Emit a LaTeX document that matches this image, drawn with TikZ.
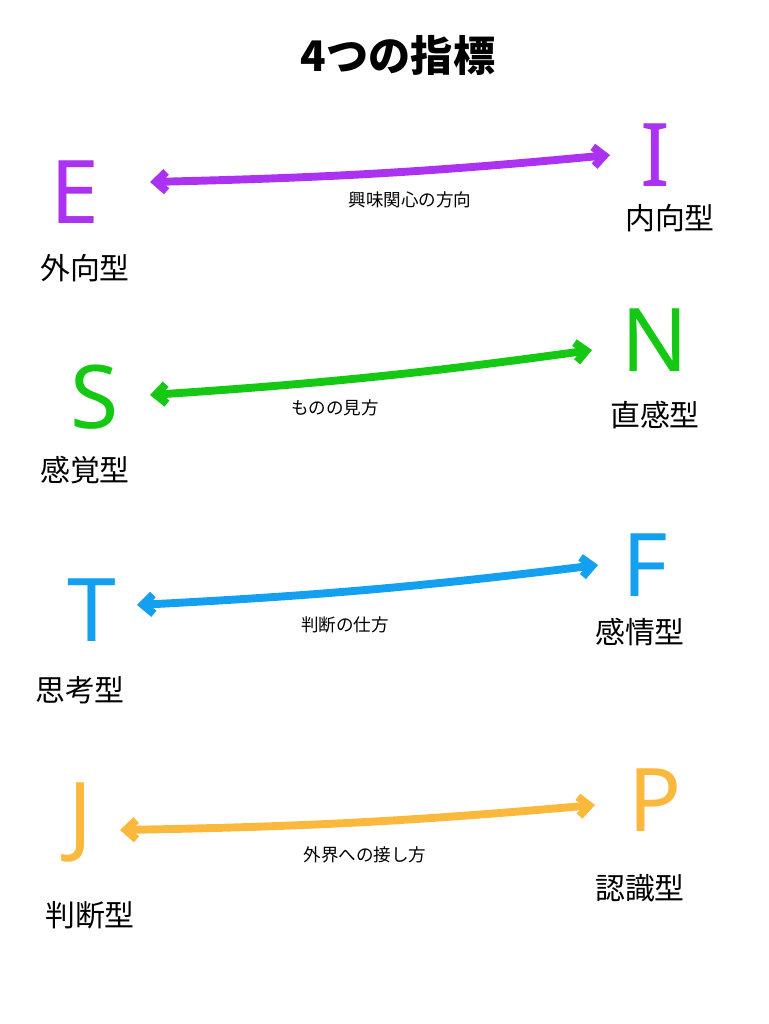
\documentclass[tikz,border=0pt]{standalone}
\usepackage{fontspec}
\setmainfont{Noto Sans}
\newfontfamily\jpfont{Noto Sans CJK JP}
\usetikzlibrary{arrows.meta}
\definecolor{cE}{RGB}{170,50,240}
\definecolor{cS}{RGB}{20,200,20}
\definecolor{cT}{RGB}{20,160,240}
\definecolor{cJ}{RGB}{250,185,60}
\begin{document}
\begin{tikzpicture}[x=0.02cm, y=-0.02cm,
    letter/.style={font=\fontsize{50}{50}\selectfont\bfseries, inner sep=0pt},
    typeLabel/.style={font=\jpfont\fontsize{17}{17}\selectfont, inner sep=0pt},
    axisLabel/.style={font=\jpfont\fontsize{10}{10}\selectfont, inner sep=0pt},
    axis/.style={line width=4.5pt, line cap=round, {Straight Barb[length=6pt,width=11pt]}-{Straight Barb[length=6pt,width=11pt]}},
  ]
    \useasboundingbox (0,0) rectangle (768,1024);
    \node[font=\jpfont\bfseries\fontsize{24}{24}\selectfont] (title) at (398,55) {4つの指標};

    % E -- I
    \node[letter, text=cE] (E) at (75,192) {E};
    \node[letter, text=cE, font=\fontsize{50}{50}\selectfont\bfseries\rmfamily] (I) at (655,155) {I};
    \node[typeLabel] (E_type) at (85,268) {外向型};
    \node[typeLabel] (I_type) at (670,218) {内向型};
    \coordinate (E_end) at (150,182);
    \coordinate (I_end) at (610,155);
    \draw[axis, cE] (E_end) to[bend right=2] (I_end);
    \node[axisLabel] (EI_axis) at (410,200) {興味関心の方向};

    % S -- N
    \node[letter, text=cS] (S) at (95,397) {S};
    \node[letter, text=cS] (N) at (655,340) {N};
    \node[typeLabel] (S_type) at (85,470) {感覚型};
    \node[typeLabel] (N_type) at (655,415) {直感型};
    \coordinate (S_end) at (150,395);
    \coordinate (N_end) at (592,350);
    \draw[axis, cS] (S_end) to[bend right=2] (N_end);
    \node[axisLabel] (SN_axis) at (335,408) {ものの見方};

    % T -- F
    \node[letter, text=cT] (T) at (92,610) {T};
    \node[letter, text=cT] (F) at (645,565) {F};
    \node[typeLabel] (T_type) at (80,690) {思考型};
    \node[typeLabel] (F_type) at (640,632) {感情型};
    \coordinate (T_end) at (137,605);
    \coordinate (F_end) at (598,565);
    \draw[axis, cT] (T_end) to[bend right=2] (F_end);
    \node[axisLabel] (TF_axis) at (345,625) {判断の仕方};

    % J -- P
    \node[letter, text=cJ] (J) at (80,822) {J};
    \node[letter, text=cJ] (P) at (655,800) {P};
    \node[typeLabel] (J_type) at (90,915) {判断型};
    \node[typeLabel] (P_type) at (640,888) {認識型};
    \coordinate (J_end) at (120,830);
    \coordinate (P_end) at (595,805);
    \draw[axis, cJ] (J_end) to[bend right=2] (P_end);
    \node[axisLabel] (JP_axis) at (365,855) {外界への接し方};
\end{tikzpicture}
\end{document}
